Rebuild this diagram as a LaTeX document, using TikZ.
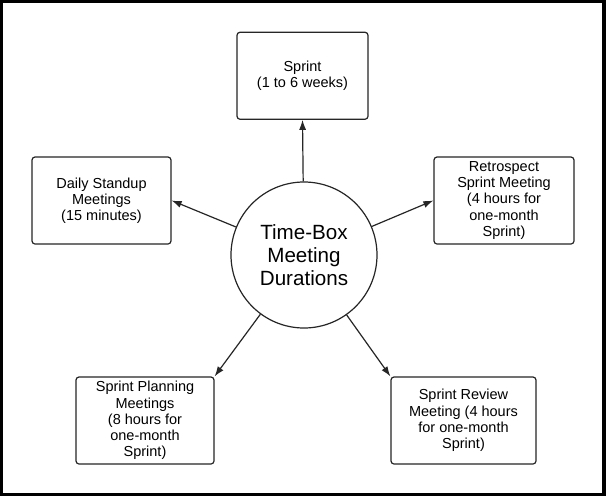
\documentclass[tikz,border=0pt]{standalone}
\usepackage{fontspec}
\setmainfont{Liberation Sans}
\usetikzlibrary{arrows.meta,shapes.geometric}
\begin{document}
\begin{tikzpicture}[x=1pt,y=-1pt,
  box/.style={draw=black!85, line width=1.2pt, rounded corners=3pt, fill=white,
    minimum height=87pt, inner sep=0pt, align=center,
    font=\fontsize{14.5}{16.2}\selectfont},
  hub/.style={draw=black!85, circle, line width=1.2pt, minimum size=146pt, inner sep=0pt,
    align=center, font=\fontsize{20.6}{23}\selectfont},
  arr/.style={draw=black!85, line width=1.2pt, -{Latex[length=10pt,width=7pt]}}]
\fill[black] (0,0) rectangle (606,496);
\fill[white] (3,3) rectangle (601.5,493);
\node[hub] (c) at (304,255) {Time-Box\\Meeting\\Durations};
\node[box, minimum width=131pt] (sprint) at (302.5,75.75) {Sprint\\(1 to 6 weeks)};
\node[box, minimum width=139pt] (daily) at (101.5,200.5) {Daily Standup\\Meetings\\(15 minutes)};
\node[box, minimum width=140pt] (retro) at (504,200.5) {Retrospect\\Sprint Meeting\\(4 hours for\\one-month\\Sprint)};
\node[box, minimum width=138pt] (plan) at (145,420.5) {Sprint Planning\\Meetings\\(8 hours for\\one-month\\Sprint)};
\node[box, minimum width=145pt] (review) at (463.5,420.5) {Sprint Review\\Meeting (4 hours\\for one-month\\Sprint)};
\draw[arr] (c) -- (sprint.south);
\draw[arr] (c) -- (daily.east);
\draw[arr] (c) -- (retro.west);
\draw[arr] (c) -- (plan.north east);
\draw[arr] (c) -- (review.north west);
\end{tikzpicture}
\end{document}
